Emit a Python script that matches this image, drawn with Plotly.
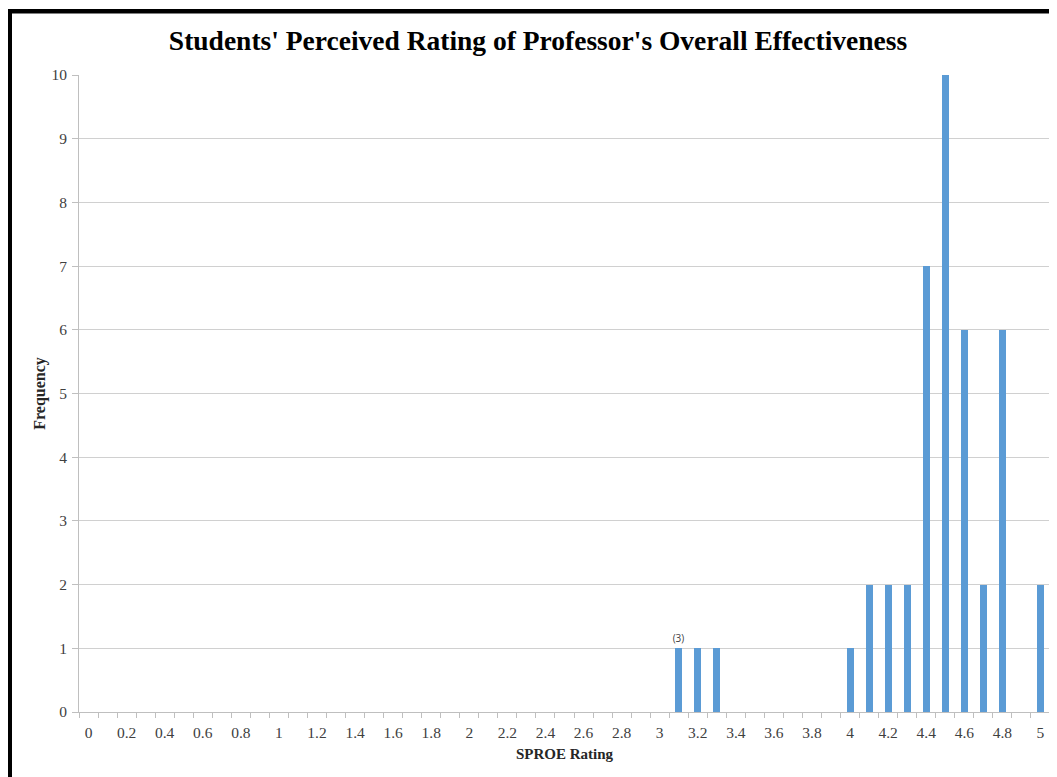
import plotly.graph_objects as go

ratings = [3.1, 3.2, 3.3, 4.0, 4.1, 4.2, 4.3, 4.4, 4.5, 4.6, 4.7, 4.8, 5.0]
frequency = [1, 1, 1, 1, 2, 2, 2, 7, 10, 6, 2, 6, 2]
bar_labels = ["(3)", "", "", "", "", "", "", "", "", "", "", "", ""]

title = "Students' Perceived Rating of Professor's Overall Effectiveness"
x_title = "SPROE Rating"
y_title = "Frequency"

# page has an 8px body margin; figure sized so the page matches 1057x777
OFF = 8
W, H = 1057 - OFF, 777 - OFF
L, R, T, B = 79 - OFF, 1057 - 1050, 75 - OFF, 777 - 712
pw, ph = W - L - R, H - T - B

def px2x(px):
    return (px - OFF - L) / pw

def py2y(py):
    return (H - B - (py - OFF)) / ph

serif = "Liberation Serif, Times New Roman, serif"

fig = go.Figure()
fig.add_trace(go.Bar(
    x=ratings, y=frequency, width=0.037,
    marker=dict(color="#5B9BD5", line=dict(width=0)),
    text=bar_labels, textposition="outside", cliponaxis=False,
    constraintext="none",
    textfont=dict(family="Open Sans, sans-serif", size=10, color="#404040"),
    hoverinfo="x+y",
))

fig.update_layout(
    width=W, height=H,
    margin=dict(l=L, r=R, t=T, b=B, autoexpand=False),
    paper_bgcolor="white", plot_bgcolor="white",
    showlegend=False, bargap=0,
    title=dict(text="<b>" + title + "</b>", x=(538 - OFF) / W, xanchor="center",
               xref="container",
               y=1 - (40 - OFF) / H, yanchor="middle",
               font=dict(family=serif, size=27.5, color="#000000")),
    shapes=[
        dict(type="line", xref="paper", yref="paper",
             x0=px2x(7), x1=px2x(1070), y0=py2y(11.2), y1=py2y(11.2),
             line=dict(color="black", width=4.5)),
        dict(type="line", xref="paper", yref="paper",
             x0=px2x(9.5), x1=px2x(9.5), y0=py2y(9), y1=py2y(800),
             line=dict(color="black", width=5)),
    ],
)

fig.update_xaxes(
    range=[-0.05, 5.05], tickmode="linear", tick0=0, dtick=0.2,
    ticks="", showgrid=False, zeroline=False,
    showline=True, linecolor="#BFBFBF", linewidth=1,
    ticklabelstandoff=6,
    tickfont=dict(family=serif, size=15.5, color="#404040"),
    minor=dict(tickmode="linear", tick0=-0.05, dtick=0.1, ticks="outside",
               ticklen=5, tickcolor="#BFBFBF", showgrid=False),
    title=dict(text="<b>" + x_title + "</b>", standoff=8,
               font=dict(family=serif, size=15, color="#262626")),
)
fig.update_yaxes(
    range=[0, 10], tickmode="linear", tick0=0, dtick=1,
    ticks="outside", ticklen=6, tickcolor="#BFBFBF",
    showgrid=True, gridcolor="#D0D0D0", gridwidth=1.3,
    zeroline=False, showline=True, linecolor="#BFBFBF", linewidth=1,
    ticklabelstandoff=2,
    tickfont=dict(family=serif, size=15.5, color="#404040"),
    title=dict(text="<b>" + y_title + "</b>", standoff=1,
               font=dict(family=serif, size=16, color="#262626")),
)

fig.write_html("out.html")
